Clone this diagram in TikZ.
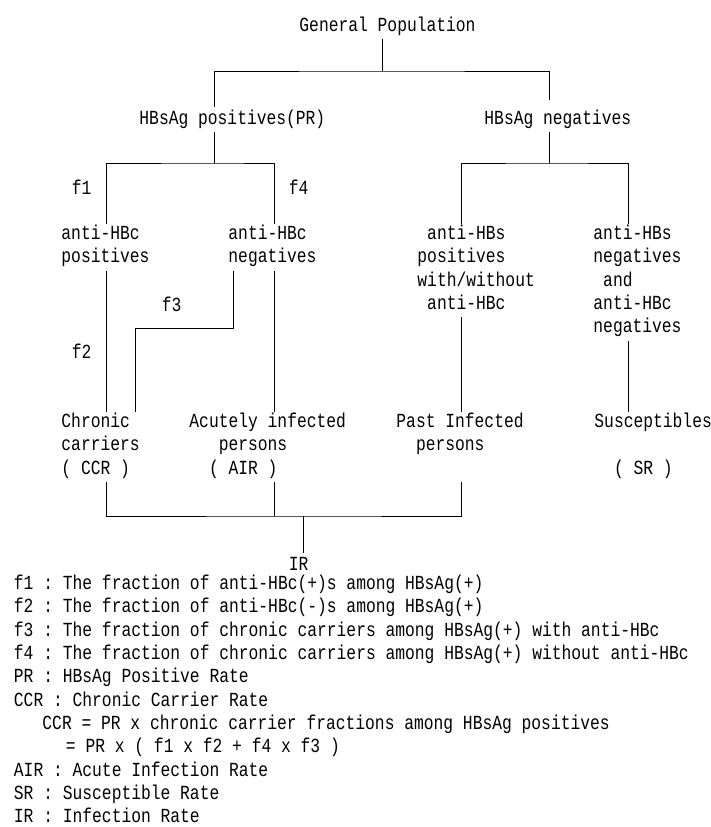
\documentclass[tikz,border=0pt]{standalone}
\usepackage{fontspec}
\setmainfont{Liberation Mono}[FakeStretch=0.815]

\begin{document}
\begin{tikzpicture}[x=1pt, y=-1pt, line width=0.9pt,
    txt/.style={anchor=north west, align=left, inner xsep=0pt, inner ysep=0.5pt,
        font=\fontsize{20}{23.3}\selectfont\frenchspacing,
        execute at begin node=\strut, execute at end node=\strut}]
    \useasboundingbox (0,0) rectangle (710,827);

    % Tree
    \node[txt] (gp) at (299,14.2) {General Population};
    \node[txt] (pos) at (139,107.2) {HBsAg positives(PR)};
    \node[txt] (neg) at (484,107.2) {HBsAg negatives};

    \node[txt] (apos) at (61,224.2) {anti-HBc\\positives};
    \node[txt] (aneg) at (228,224.2) {anti-HBc\\negatives};
    \node[txt] (apast) at (417,224.2) {\hphantom{x}anti-HBs\\positives\\with/without\\\hphantom{x}anti-HBc};
    \node[txt] (asus) at (593,224.2) {anti-HBs\\negatives\\\hphantom{x}and\\anti-HBc\\negatives};

    \node[txt] (ccr) at (61,412.2) {Chronic\\carriers\\( CCR )};
    \node[txt] (air) at (189,412.2) {Acutely infected\\\hphantom{xxx}persons\\\hphantom{xx}( AIR )};
    \node[txt] (past) at (396,412.2) {Past Infected\\\hphantom{xx}persons\\\mbox{}};
    \node[txt] (sus) at (594,412.2) {Susceptibles\\\mbox{}\\\hphantom{xx}( SR )};
    \node[txt] (ir) at (288.5,553.2) {IR};

    % Fractions
    \node[txt] (f1) at (71.5,177.2) {f1};
    \node[txt] (f4) at (288.5,177.2) {f4};
    \node[txt] (f3) at (161.5,294.2) {f3};
    \node[txt] (f2) at (71.5,341.2) {f2};

    % Junctions
    \coordinate (j0) at (382,71);
    \coordinate (jp) at (214,163);
    \coordinate (jn) at (549,163);
    \coordinate (colA) at (106,0);
    \coordinate (colB) at (274,0);
    \coordinate (colC) at (461,0);
    \coordinate (colD) at (628,0);
    \coordinate (colE) at (135,0);
    \coordinate (kink) at (233,328);
    \coordinate (jb) at (303,516);
    \coordinate (negtop) at ([yshift=7pt]neg.north);

    % Connectors
    \draw (gp.south -| j0) -- (j0);
    \draw (pos.north -| jp) |- (j0) -| (negtop -| jn);
    \draw (pos.south -| jp) -- (jp);
    \draw (apos.north -| colA) |- (jp) -| (aneg.north -| colB);
    \draw (neg.south -| jn) -- (jn);
    \draw (apast.north -| colC) |- (jn) -| (asus.north -| colD);

    \draw (apos.south -| colA) -- (ccr.north -| colA);
    \draw (aneg.south -| colB) -- (air.north -| colB);
    \draw (aneg.south -| kink) -- (kink) -| (ccr.north -| colE);
    \draw (apast.south -| colC) -- (past.north -| colC);
    \draw (asus.south -| colD) -- (sus.north -| colD);

    \draw (ccr.south -| colA) |- (jb) -| (past.south -| colC);
    \draw (air.south -| colB) -- (colB |- jb);
    \draw (jb) -- (ir.north -| jb);

    % Legend
    \node[txt] (legend) at (13.5,574.2) {%
        f1 : The fraction of anti-HBc(+)s among HBsAg(+)\\
        f2 : The fraction of anti-HBc(-)s among HBsAg(+)\\
        f3 : The fraction of chronic carriers among HBsAg(+) with anti-HBc\\
        f4 : The fraction of chronic carriers among HBsAg(+) without anti-HBc\\
        PR : HBsAg Positive Rate\\
        CCR : Chronic Carrier Rate\\
        \hspace*{28.5pt}CCR = PR x chronic carrier fractions among HBsAg positives\\
        \hspace*{52pt}= PR x ( f1 x f2 + f4 x f3 )\\
        AIR : Acute Infection Rate\\
        SR : Susceptible Rate\\
        IR : Infection Rate};
\end{tikzpicture}
\end{document}
